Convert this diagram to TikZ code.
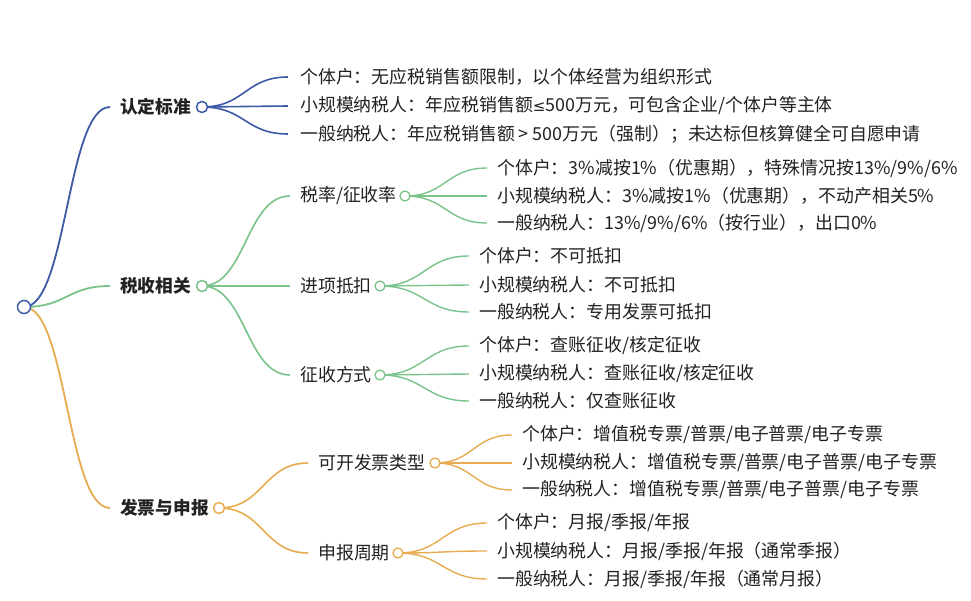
\documentclass[tikz,border=0pt]{standalone}
\usepackage{fontspec}
\newfontfamily\cjk{Noto Sans CJK SC}
\newfontfamily\symf{DejaVu Sans}
\usetikzlibrary{calc}
\pgfdeclarelayer{bg}
\pgfdeclarelayer{links}
\pgfsetlayers{bg,links,main}
\definecolor{mmblue}{RGB}{60,90,165}
\definecolor{mmgreen}{RGB}{122,195,138}
\definecolor{mmorange}{RGB}{232,172,80}
\definecolor{txt}{RGB}{34,34,34}
\tikzset{
  mm/.style={to path={let \p1=(\tikztostart), \p2=(\tikztotarget) in .. controls ({(\x1+\x2)/2},\y1) and ({(\x1+\x2)/2},\y2) .. (\tikztotarget)}},
  leaf/.style={anchor=west, inner sep=0pt, text=txt, font=\cjk\fontsize{17.9}{20}\selectfont},
  top/.style={anchor=west, inner sep=0pt, text=txt, font=\cjk\bfseries\fontsize{17.7}{20}\selectfont},
  dot/.style={circle, draw, fill=white, minimum size=11pt, inner sep=0pt, line width=1.5pt},
  subdot/.style={dot, minimum size=10pt, line width=1.3pt},
  rootdot/.style={dot, minimum size=13pt},
  lk1/.style={line width=1.8pt},
  lk2/.style={line width=1.6pt},
  lk3/.style={line width=1.4pt},
}
\begin{document}
\begin{tikzpicture}[x=1pt,y=-1pt]
\useasboundingbox (0,0) rectangle (971,601);
\begin{pgfonlayer}{bg}
\fill[white] (0,0) rectangle (971,601);
\end{pgfonlayer}

% root
\node[rootdot, draw=mmblue] (r) at (24,307) {};

% level 1
\node[top] (ta) at (120,107) {认定标准};
\node[dot, draw=mmblue] (ca) at (202,107) {};
\node[top] (tb) at (120,286) {税收相关};
\node[dot, draw=mmgreen] (cb) at (202,286) {};
\node[top] (tc) at (120,508) {发票与申报};
\node[dot, draw=mmorange] (cc) at (219,508) {};

% A leaves
\node[leaf] (a1) at (300,77) {个体户：无应税销售额限制，以个体经营为组织形式};
\node[leaf] (a2) at (300,106) {小规模纳税人：年应税销售额{\symf\fontsize{15}{18}\selectfont ≤}500万元，可包含企业/个体户等主体};
\node[leaf] (a3) at (300,134) {一般纳税人：年应税销售额 > 500万元（强制）；未达标但核算健全可自愿申请};

% B level 2
\node[leaf] (b1) at (300,196) {税率/征收率};
\node[subdot, draw=mmgreen] (cb1) at (405,196) {};
\node[leaf] (b2) at (300,286) {进项抵扣};
\node[subdot, draw=mmgreen] (cb2) at (380,286) {};
\node[leaf] (b3) at (300,375) {征收方式};
\node[subdot, draw=mmgreen] (cb3) at (380,375) {};

% B leaves
\node[leaf] (b11) at (497,168) {个体户：3\%减按1\%（优惠期），特殊情况按13\%/9\%/6\%};
\node[leaf] (b12) at (497,196) {小规模纳税人：3\%减按1\%（优惠期），不动产相关5\%};
\node[leaf] (b13) at (497,223) {一般纳税人：13\%/9\%/6\%（按行业），出口0\%};
\node[leaf] (b21) at (479,256) {个体户：不可抵扣};
\node[leaf] (b22) at (479,285) {小规模纳税人：不可抵扣};
\node[leaf] (b23) at (479,312) {一般纳税人：专用发票可抵扣};
\node[leaf] (b31) at (479,346) {个体户：查账征收/核定征收};
\node[leaf] (b32) at (479,374) {小规模纳税人：查账征收/核定征收};
\node[leaf] (b33) at (479,401) {一般纳税人：仅查账征收};

% C level 2
\node[leaf] (c1) at (318,463) {可开发票类型};
\node[subdot, draw=mmorange] (cc1) at (435,463) {};
\node[leaf] (c2) at (318,553) {申报周期};
\node[subdot, draw=mmorange] (cc2) at (398,553) {};

% C leaves
\node[leaf] (c11) at (522,435) {个体户：增值税专票/普票/电子普票/电子专票};
\node[leaf] (c12) at (522,463) {小规模纳税人：增值税专票/普票/电子普票/电子专票};
\node[leaf] (c13) at (522,490) {一般纳税人：增值税专票/普票/电子普票/电子专票};
\node[leaf] (c21) at (497,523) {个体户：月报/季报/年报};
\node[leaf] (c22) at (497,551) {小规模纳税人：月报/季报/年报（通常季报）};
\node[leaf] (c23) at (497,579) {一般纳税人：月报/季报/年报（通常月报）};

\begin{pgfonlayer}{links}
% root links
\draw[lk1, mmblue] (r.center) to[mm] ([xshift=-10pt]ta.west);
\draw[lk1, mmgreen] (r.center) to[mm] ([xshift=-10pt]tb.west);
\draw[lk1, mmorange] (r.center) to[mm] ([xshift=-10pt]tc.west);
% A
\foreach \n in {a1,a2,a3}
  \draw[lk2, mmblue] (ca.center) to[mm] ([xshift=-12pt]\n.west);
% B
\foreach \n in {b1,b2,b3}
  \draw[lk2, mmgreen] (cb.center) to[mm] ([xshift=-10pt]\n.west);
\foreach \n in {b11,b12,b13}
  \draw[lk3, mmgreen] (cb1.center) to[mm] ([xshift=-10pt]\n.west);
\foreach \n in {b21,b22,b23}
  \draw[lk3, mmgreen] (cb2.center) to[mm] ([xshift=-10pt]\n.west);
\foreach \n in {b31,b32,b33}
  \draw[lk3, mmgreen] (cb3.center) to[mm] ([xshift=-10pt]\n.west);
% C
\foreach \n in {c1,c2}
  \draw[lk2, mmorange] (cc.center) to[mm] ([xshift=-10pt]\n.west);
\foreach \n in {c11,c12,c13}
  \draw[lk3, mmorange] (cc1.center) to[mm] ([xshift=-10pt]\n.west);
\foreach \n in {c21,c22,c23}
  \draw[lk3, mmorange] (cc2.center) to[mm] ([xshift=-10pt]\n.west);
\end{pgfonlayer}
\end{tikzpicture}
\end{document}
